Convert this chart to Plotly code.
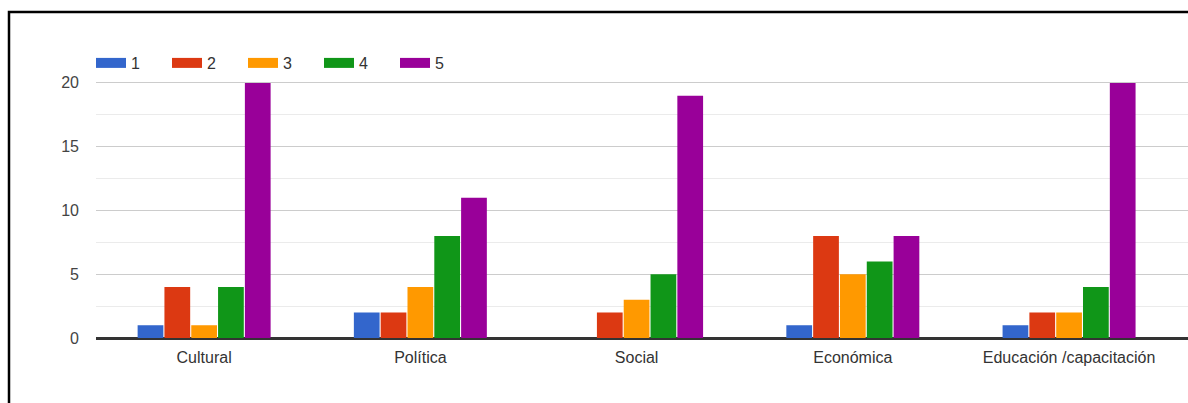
import plotly.graph_objects as go

categories = ["Cultural", "Política", "Social", "Económica", "Educación /capacitación"]
series_names = ["1", "2", "3", "4", "5"]
values_1 = [1, 2, 0, 1, 1]
values_2 = [4, 2, 2, 8, 2]
values_3 = [1, 4, 3, 5, 2]
values_4 = [4, 8, 5, 6, 4]
values_5 = [20, 11, 19, 8, 20]
colors = ["#3366cc", "#dc3912", "#ff9900", "#109618", "#990099"]
y_ticks = [0, 5, 10, 15, 20]

series_values = [values_1, values_2, values_3, values_4, values_5]

fig = go.Figure()
for name, vals, col in zip(series_names, series_values, colors):
    fig.add_trace(go.Bar(x=categories, y=vals, name=name, marker=dict(color=col, line=dict(width=0)),
                         legendgroup=name, showlegend=False))
    # legend swatch (wide rectangle like the original)
    fig.add_trace(go.Scatter(x=[None], y=[None], mode="lines", name=name, legendgroup=name,
                             line=dict(color=col, width=13), showlegend=True))

W, H = 1188, 403
L, R, T, B = 96, 0, 51, 65
pw = W - L - R
ph = H - T - B

fig.update_layout(
    width=W, height=H,
    margin=dict(l=L, r=R, t=T, b=B),
    paper_bgcolor="white", plot_bgcolor="white",
    barmode="group", bargap=0.38, bargroupgap=0.04,
    font=dict(family="Liberation Sans, Arial, sans-serif", size=16, color="#444"),
    legend=dict(orientation="h", x=-5 / pw, xanchor="left", y=(H - B - 63) / ph, yanchor="middle",
                bgcolor="rgba(0,0,0,0)", font=dict(size=16, color="#333"),
                entrywidth=31, itemwidth=30, tracegroupgap=0),
    showlegend=True,
)
fig.update_xaxes(type="category", range=[-0.5, 4.55], showgrid=False, showline=True,
                 linecolor="#333", linewidth=1.5, ticks="", tickfont=dict(size=16, color="#333"),
                 ticklabelstandoff=4)
fig.update_yaxes(range=[0, 22.5], tickvals=y_ticks, showgrid=True, gridcolor="#cccccc",
                 gridwidth=1, zeroline=True, zerolinecolor="#333", zerolinewidth=1.5,
                 showline=False, ticklabelstandoff=16, tickfont=dict(size=16, color="#444"),
                 minor=dict(dtick=2.5, showgrid=True, gridcolor="#ebebeb", gridwidth=1))

# black frame of the original screenshot
fig.add_shape(type="rect", xref="paper", yref="paper",
              x0=(9 - L) / pw, x1=1.05, y0=-0.5, y1=(H - B - 12) / ph,
              line=dict(color="black", width=2.5), fillcolor="rgba(0,0,0,0)", layer="above")

fig.write_html("out.html")
